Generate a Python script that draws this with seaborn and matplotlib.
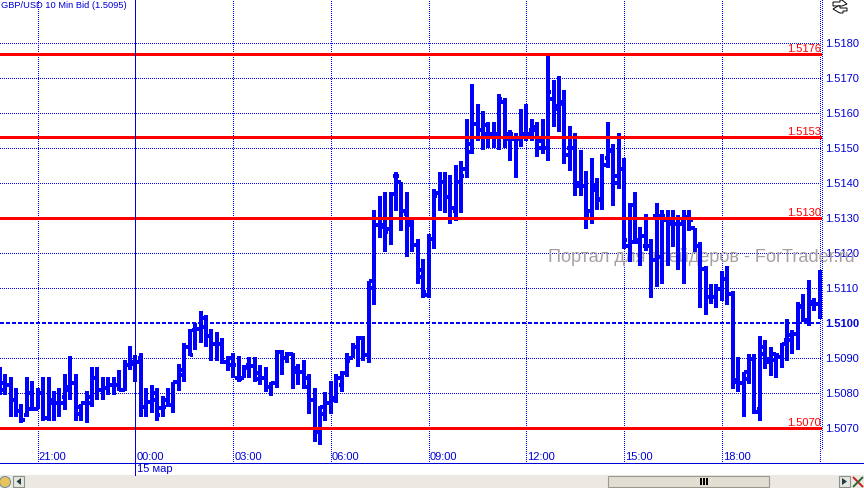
import numpy as np
import pandas as pd
import seaborn as sns
from matplotlib import pyplot as plt
from matplotlib.patches import Circle, Polygon, Rectangle

# 10 minute bars, index counted from 00:00 on 15 mar
first_bar = -25

highs = [
    1.50874, 1.50855, 1.50845, 1.50814, 1.50770, 1.50845, 1.50835, 1.50814, 1.50845, 1.50845,
    1.50805, 1.50814, 1.50855, 1.50905, 1.50855, 1.50770, 1.50805, 1.50874, 1.50874, 1.50845,
    1.50845, 1.50845, 1.50865, 1.50895, 1.50935,
    1.50909, 1.50914, 1.50814, 1.50824, 1.50814, 1.50793, 1.50814, 1.50833, 1.50883, 1.50943,
    1.50984, 1.51000, 1.51035, 1.51024, 1.50984, 1.50974, 1.50959, 1.50905, 1.50914, 1.50905,
    1.50881, 1.50903, 1.50903, 1.50881, 1.50874, 1.50833, 1.50924, 1.50924, 1.50919, 1.50914,
    1.50884, 1.50895, 1.50854, 1.50814, 1.50764, 1.50804, 1.50835, 1.50855, 1.50864, 1.50914,
    1.50943, 1.50962, 1.50962, 1.51121, 1.51323, 1.51364, 1.51373, 1.51373, 1.51432, 1.51404,
    1.51373, 1.51299, 1.51241, 1.51182, 1.51253, 1.51383, 1.51432, 1.51432, 1.51424, 1.51452,
    1.51464, 1.51583, 1.51683, 1.51624, 1.51604, 1.51573, 1.51573, 1.51653, 1.51643, 1.51552,
    1.51543, 1.51612, 1.51624, 1.51583, 1.51573, 1.51583, 1.51764, 1.51693, 1.51704, 1.51664,
    1.51563, 1.51543, 1.51493, 1.51433, 1.51472, 1.51413, 1.51483, 1.51573, 1.51512, 1.51543,
    1.51472, 1.51343, 1.51374, 1.51274, 1.51312, 1.51240, 1.51343, 1.51323, 1.51323, 1.51323,
    1.51310, 1.51323, 1.51323, 1.51272, 1.51231, 1.51162, 1.51112, 1.51112, 1.51150, 1.51162,
    1.51093, 1.50903, 1.50860, 1.50913, 1.50913, 1.50962, 1.50952, 1.50932, 1.50913, 1.50943,
    1.51012, 1.50981, 1.51060, 1.51082, 1.51122, 1.51072, 1.51152,
]
lows = [
    1.50795, 1.50795, 1.50733, 1.50733, 1.50714, 1.50733, 1.50750, 1.50754, 1.50722, 1.50722,
    1.50722, 1.50733, 1.50752, 1.50780, 1.50722, 1.50722, 1.50714, 1.50762, 1.50780, 1.50780,
    1.50795, 1.50795, 1.50805, 1.50805, 1.50865,
    1.50833, 1.50733, 1.50733, 1.50743, 1.50722, 1.50733, 1.50762, 1.50743, 1.50805, 1.50833,
    1.50905, 1.50924, 1.50943, 1.50933, 1.50892, 1.50892, 1.50883, 1.50864, 1.50843, 1.50833,
    1.50843, 1.50843, 1.50833, 1.50824, 1.50804, 1.50792, 1.50814, 1.50852, 1.50886, 1.50813,
    1.50824, 1.50813, 1.50741, 1.50662, 1.50652, 1.50722, 1.50741, 1.50773, 1.50804, 1.50845,
    1.50900, 1.50874, 1.50893, 1.50886, 1.51051, 1.51244, 1.51203, 1.51222, 1.51321, 1.51262,
    1.51190, 1.51203, 1.51113, 1.51072, 1.51072, 1.51211, 1.51321, 1.51314, 1.51282, 1.51291,
    1.51314, 1.51414, 1.51483, 1.51521, 1.51493, 1.51500, 1.51500, 1.51493, 1.51500, 1.51463,
    1.51414, 1.51502, 1.51521, 1.51521, 1.51474, 1.51483, 1.51463, 1.51561, 1.51545, 1.51453,
    1.51434, 1.51362, 1.51362, 1.51270, 1.51282, 1.51322, 1.51322, 1.51442, 1.51333, 1.51382,
    1.51212, 1.51174, 1.51226, 1.51164, 1.51207, 1.51072, 1.51103, 1.51112, 1.51164, 1.51217,
    1.51152, 1.51112, 1.51262, 1.51202, 1.51044, 1.51024, 1.51055, 1.51044, 1.51063, 1.51052,
    1.50813, 1.50803, 1.50732, 1.50825, 1.50741, 1.50722, 1.50870, 1.50850, 1.50843, 1.50872,
    1.50892, 1.50913, 1.50924, 1.51003, 1.50993, 1.51036, 1.51012,
]
opens = [
    1.50829, 1.50829, 1.50824, 1.50780, 1.50750, 1.50738, 1.50755, 1.50755, 1.50802, 1.50729,
    1.50771, 1.50771, 1.50790, 1.50819, 1.50829, 1.50741, 1.50771, 1.50771, 1.50843, 1.50810,
    1.50814, 1.50824, 1.50824, 1.50810, 1.50881,
    1.50883, 1.50900, 1.50762, 1.50776, 1.50800, 1.50757, 1.50781, 1.50767, 1.50833, 1.50852,
    1.50933, 1.50981, 1.50984, 1.50990, 1.50962, 1.50940, 1.50940, 1.50890, 1.50881, 1.50843,
    1.50843, 1.50881, 1.50878, 1.50859, 1.50843, 1.50819, 1.50830, 1.50919, 1.50900, 1.50912,
    1.50871, 1.50862, 1.50843, 1.50781, 1.50690, 1.50741, 1.50771, 1.50781, 1.50824, 1.50857,
    1.50900, 1.50933, 1.50957, 1.50910, 1.51099, 1.51279, 1.51274, 1.51269, 1.51421, 1.51402,
    1.51312, 1.51279, 1.51222, 1.51132, 1.51080, 1.51241, 1.51370, 1.51402, 1.51359, 1.51321,
    1.51402, 1.51440, 1.51488, 1.51569, 1.51550, 1.51564, 1.51540, 1.51540, 1.51630, 1.51526,
    1.51526, 1.51526, 1.51540, 1.51550, 1.51550, 1.51500, 1.51500, 1.51640, 1.51620, 1.51630,
    1.51500, 1.51500, 1.51390, 1.51390, 1.51320, 1.51380, 1.51350, 1.51470, 1.51490, 1.51420,
    1.51440, 1.51221, 1.51231, 1.51231, 1.51221, 1.51221, 1.51307, 1.51307, 1.51293, 1.51283,
    1.51283, 1.51293, 1.51304, 1.51272, 1.51221, 1.51155, 1.51074, 1.51076, 1.51098, 1.51126,
    1.51084, 1.50832, 1.50829, 1.50841, 1.50898, 1.50756, 1.50911, 1.50889, 1.50911, 1.50903,
    1.50951, 1.50965, 1.50968, 1.51050, 1.51008, 1.51055, 1.51055,
]
closes = [
    1.50810, 1.50824, 1.50780, 1.50750, 1.50724, 1.50802, 1.50755, 1.50802, 1.50729, 1.50781,
    1.50771, 1.50771, 1.50810, 1.50829, 1.50762, 1.50771, 1.50790, 1.50843, 1.50810, 1.50814,
    1.50824, 1.50824, 1.50810, 1.50881, 1.50888,
    1.50890, 1.50762, 1.50776, 1.50781, 1.50738, 1.50762, 1.50767, 1.50833, 1.50867, 1.50933,
    1.50910, 1.50984, 1.51014, 1.50962, 1.50940, 1.50940, 1.50890, 1.50900, 1.50881, 1.50840,
    1.50871, 1.50878, 1.50840, 1.50843, 1.50819, 1.50830, 1.50919, 1.50900, 1.50912, 1.50862,
    1.50862, 1.50819, 1.50781, 1.50690, 1.50762, 1.50771, 1.50786, 1.50843, 1.50857, 1.50892,
    1.50933, 1.50957, 1.50910, 1.51120, 1.51279, 1.51279, 1.51260, 1.51369, 1.51421, 1.51321,
    1.51291, 1.51222, 1.51151, 1.51089, 1.51241, 1.51364, 1.51402, 1.51359, 1.51329, 1.51402,
    1.51421, 1.51510, 1.51569, 1.51550, 1.51540, 1.51540, 1.51540, 1.51640, 1.51540, 1.51540,
    1.51526, 1.51540, 1.51540, 1.51560, 1.51521, 1.51500, 1.51660, 1.51610, 1.51625, 1.51480,
    1.51500, 1.51400, 1.51390, 1.51310, 1.51390, 1.51355, 1.51450, 1.51490, 1.51400, 1.51440,
    1.51236, 1.51336, 1.51236, 1.51250, 1.51221, 1.51179, 1.51188, 1.51307, 1.51293, 1.51283,
    1.51283, 1.51304, 1.51293, 1.51221, 1.51155, 1.51074, 1.51076, 1.51098, 1.51126, 1.51084,
    1.50837, 1.50829, 1.50860, 1.50898, 1.50746, 1.50932, 1.50898, 1.50894, 1.50908, 1.50941,
    1.50951, 1.50968, 1.51046, 1.51008, 1.51060, 1.51055, 1.51109,
]

time_ticks = [-18, 0, 18, 36, 54, 72, 90, 108, 126]
time_labels = ["21:00", "00:00", "03:00", "06:00", "09:00", "12:00", "15:00", "18:00", ""]
price_ticks = [1.5070, 1.5080, 1.5090, 1.5100, 1.5110, 1.5120, 1.5130, 1.5140, 1.5150, 1.5160, 1.5170, 1.5180]
red_levels = [1.51769, 1.5153, 1.5130, 1.5070]
red_labels = ["1.5176", "1.5153", "1.5130", "1.5070"]
dashed_level = 1.5100

BLUE = "#0000ff"
TEXT_BLUE = "#0000d8"
W, H = 864, 488
AXIS_Y = 463
PRICE_EDGE = 822

sns.set_theme(style="white", rc={"axes.grid": False, "lines.solid_capstyle": "butt"})
plt.rcParams["font.family"] = ["Liberation Sans", "DejaVu Sans"]

bars = pd.DataFrame({"high": highs, "low": lows, "open": opens, "close": closes})
bars["bar"] = np.arange(len(bars)) + first_bar

# long tables so seaborn draws each bar or tick as its own unit
spans = bars.melt(id_vars="bar", value_vars=["high", "low"], value_name="price")
left = pd.concat([bars.assign(x=bars.bar - 0.6), bars.assign(x=bars.bar)])
left["price"] = left["open"]
right = pd.concat([bars.assign(x=bars.bar), bars.assign(x=bars.bar + 0.6)])
right["price"] = right["close"]

fig = plt.figure(figsize=(W / 100, H / 100), dpi=100, facecolor="white")
ax = fig.add_axes([0, 1 - AXIS_Y / H, PRICE_EDGE / W, AXIS_Y / H])
over = fig.add_axes([0, 0, 1, 1], facecolor="none")
over.set_xlim(0, W)
over.set_ylim(H, 0)
over.axis("off")

ax.set_xlim(-24.94, 126.44)
ax.set_ylim(1.50601, 1.51922)
ax.set_facecolor("white")
for side in ax.spines.values():
    side.set_visible(False)

dots = (0, (1, 2))
grid_kws = dict(color=BLUE, lw=0.72, ls=dots, zorder=1, antialiased=False)
for t in time_ticks:
    if t != 0:
        ax.axvline(t, **grid_kws)
for p in price_ticks:
    if p != dashed_level:
        ax.axhline(p, **grid_kws)
ax.axhline(dashed_level, color=BLUE, lw=1.5, ls=(0, (1.9, 1.0)), zorder=1.5, antialiased=False)
for level, label in zip(red_levels, red_labels):
    ax.axhline(level, color="#ff0000", lw=1.05, zorder=4, antialiased=False)
    ax.text(0.9985, level, label, transform=ax.get_yaxis_transform(), color="#ff0000",
            ha="right", va="bottom", fontsize=8, zorder=5)

ax.text(548 / PRICE_EDGE, 1.5119, "Портал для трейдеров - ForTrader.ru", transform=ax.get_yaxis_transform(),
        color="#a8a0a0", ha="left", va="center", fontsize=13.1, clip_on=False, zorder=2)

line_kws = dict(estimator=None, errorbar=None, sort=False, legend=False, color=BLUE, ax=ax,
                antialiased=False, zorder=3)
sns.lineplot(data=spans, x="bar", y="price", units="bar", lw=2.6, **line_kws)
sns.lineplot(data=left, x="x", y="price", units="bar", lw=1.7, **line_kws)
sns.lineplot(data=right, x="x", y="price", units="bar", lw=1.7, **line_kws)

ax.set_xlabel("")
ax.set_ylabel("")
ax.set_xticks([])
ax.yaxis.tick_right()
ax.set_yticks(price_ticks)
ax.set_yticklabels([f"{p:.4f}" for p in price_ticks])
ax.tick_params(axis="y", length=0, pad=2, labelsize=8, labelcolor=TEXT_BLUE)
for tick, p in zip(ax.get_yticklabels(), price_ticks):
    if p == dashed_level:
        tick.set_fontweight("bold")

for t, label in zip(time_ticks, time_labels):
    ax.annotate(label, (t, 0), xycoords=ax.get_xaxis_transform(), xytext=(0.7, 1),
                textcoords="offset points", color=TEXT_BLUE, fontsize=8, ha="left", va="bottom")

# things outside the plot area, in screen pixels
zero_x = (0 + 24.94) / (126.44 + 24.94) * PRICE_EDGE
over.plot([0, W], [AXIS_Y, AXIS_Y], color=TEXT_BLUE, lw=0.45, antialiased=False)
over.plot([zero_x, zero_x], [0, 475], color=TEXT_BLUE, lw=0.45, antialiased=False)
over.plot([PRICE_EDGE, PRICE_EDGE], [0, 449], color=BLUE, lw=0.72, ls=dots, antialiased=False)
over.text(137, 469.5, "15 мар", color=TEXT_BLUE, fontsize=8, ha="left", va="center")
over.text(1, 5.5, "GBP/USD 10 Min Bid (1.5095)", color=TEXT_BLUE, fontsize=6.65, ha="left", va="center")

over.add_patch(Rectangle((0, 475), W, 13, fc="#ece9e2", ec="none"))
over.add_patch(Circle((5, 482), 5.5, fc="#e8c35a", ec="#6a86a8", lw=0.7))
over.add_patch(Rectangle((13, 476), 11, 11, fc="#e6e6dc", ec="#8a8f90", lw=0.8))
over.add_patch(Polygon([(21, 478), (21, 485), (16.5, 481.5)], fc="#223a4a", ec="none"))
over.add_patch(Rectangle((608, 475.5), 161, 11, fc="#e2dfd2", ec="#9a9a90", lw=0.8))
for x in (700.5, 703.5, 706.5):
    over.add_patch(Rectangle((x - 1, 478), 2, 7, fc="black", ec="none"))
over.add_patch(Rectangle((839, 476), 11, 11, fc="#e6e6dc", ec="#8a8f90", lw=0.8))
over.add_patch(Polygon([(842, 478), (842, 485), (847, 481.5)], fc="#223a4a", ec="none"))
over.plot([853, 863], [477, 487], color="#cc2020", lw=1.4)
over.plot([853, 863], [487, 477], color="#2a6a3a", lw=1.4)

over.add_patch(Polygon([(833, 2), (840, 2), (840, 0), (842, 0), (847, 4), (842, 6), (833, 6)],
                       fc="white", ec="black", lw=0.7, clip_on=False))
over.add_patch(Polygon([(847, 8), (840, 8), (840, 6), (838, 6), (833, 9), (838, 12), (840, 13),
                        (843, 13), (843, 11), (847, 11)], fc="white", ec="black", lw=0.7))

fig.savefig("out.png", dpi=100, facecolor="white")
